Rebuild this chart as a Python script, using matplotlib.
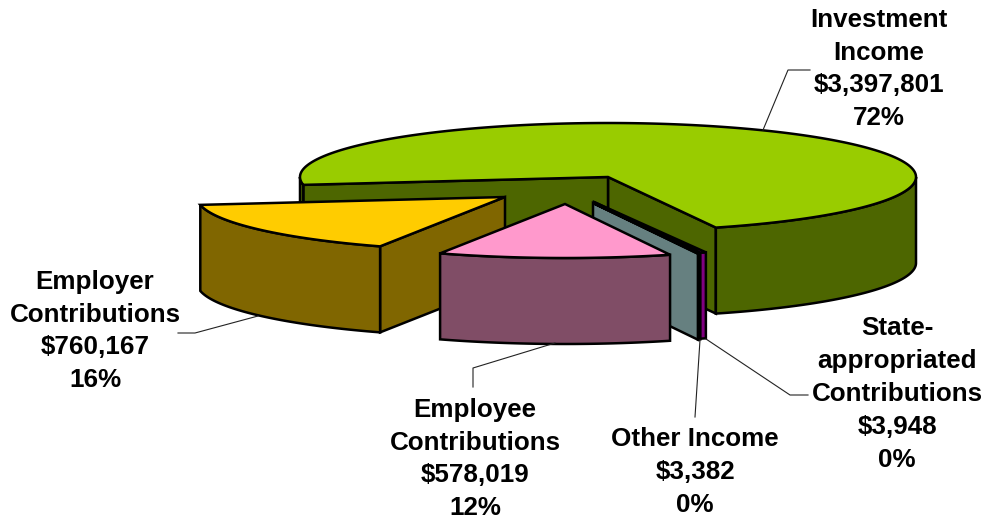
import numpy as np
import matplotlib
matplotlib.use('Agg')
import matplotlib.pyplot as plt
from matplotlib.patches import Polygon
from matplotlib.colors import to_rgb

plt.rcParams['font.family'] = ['Liberation Sans', 'DejaVu Sans']

# data, in the order the slices run counter clockwise
names = ['Investment\nIncome', 'Employer\nContributions', 'Employee\nContributions',
         'Other Income', 'State-\nappropriated\nContributions']
values = [3397801, 760167, 578019, 3382, 3948]

# look of each slice
top_colors = ['#99CC00', '#FFCC00', '#FF99CC', '#CCFFFF', '#FF00FF']
apex_x = [608, 505, 565, 593, 594]
apex_y = [177, 197, 204, 203, 202]
min_span = [0, 0, 0, 0, 1.1]  # the state slice is too thin to see otherwise
draw_order = [0, 1, 4, 3, 2]

# labels and leader lines, in pixels
label_x = [879, 95, 475, 695, 897]
label_y = [69, 331, 459, 472, 394]
leader_x = [[763, 788, 810], [258, 195, 178], [555, 473, 473], [700, 695], [706, 790, 808]]
leader_y = [[130, 70, 70], [316, 333, 333], [343, 368, 387], [340, 417], [339, 395, 395]]

rx = 308
ry = 54
depth = 86
start_angle = -69.5
edge = 1.8

total = sum(values)
spans = [v / total * 360 for v in values]
starts = start_angle + np.concatenate([[0], np.cumsum(spans)[:-1]])


def arc(cx, cy, a0, a1):
    t = np.radians(np.linspace(a0, a1, max(int(abs(a1 - a0)) * 2, 2)))
    return np.column_stack([cx + rx * np.cos(t), cy - ry * np.sin(t)])


def draw_wall(ax, cx, cy, angle, color):
    p = arc(cx, cy, angle, angle)[0]
    pts = [(cx, cy), p, (p[0], p[1] + depth), (cx, cy + depth)]
    ax.add_patch(Polygon(pts, closed=True, fc=color, ec='black', lw=edge))


fig = plt.figure(figsize=(9.86, 5.25), dpi=100)
ax = fig.add_axes([0, 0, 1, 1])
ax.set_xlim(0, 986)
ax.set_ylim(525, 0)
ax.axis('off')

for i in draw_order:
    cx, cy = apex_x[i], apex_y[i]
    a0 = starts[i]
    a1 = a0 + max(spans[i], min_span[i])
    side = tuple(c * 0.5 for c in to_rgb(top_colors[i]))

    # radial walls, only the ones that face the viewer
    if np.sin(np.radians(a0 - 90)) < 0:
        draw_wall(ax, cx, cy, a0, side)
    if np.sin(np.radians(a1 + 90)) < 0:
        draw_wall(ax, cx, cy, a1, side)

    # outer wall, only where the rim is on the near side
    for lo, hi in [(-180, 0), (180, 360), (540, 720)]:
        b0, b1 = max(a0, lo), min(a1, hi)
        if b1 > b0:
            rim = arc(cx, cy, b0, b1)
            low = rim[::-1] + [0, depth]
            ax.add_patch(Polygon(np.vstack([rim, low]), closed=True, fc=side, ec='black', lw=edge))

    pts = np.vstack([[(cx, cy)], arc(cx, cy, a0, a1)])
    ax.add_patch(Polygon(pts, closed=True, fc=top_colors[i], ec='black', lw=edge))

for i in range(len(names)):
    ax.plot(leader_x[i], leader_y[i], color='#222222', lw=0.8, zorder=5)
    pct = values[i] / total * 100
    ax.text(label_x[i], label_y[i], f'{names[i]}\n${values[i]:,}\n{pct:.0f}%',
            ha='center', va='center', ma='center', fontsize=18.7, fontweight='bold',
            linespacing=1.47, color='black', zorder=6)

fig.savefig('out.png', dpi=100)
